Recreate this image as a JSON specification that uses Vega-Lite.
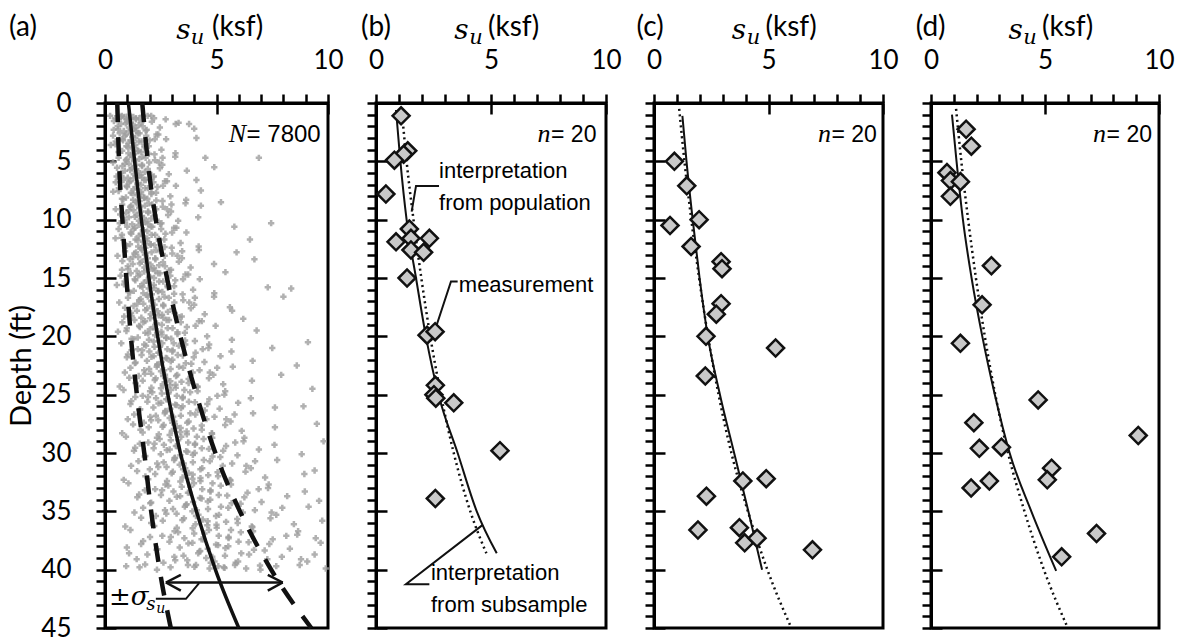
{
"$schema": "https://vega.github.io/schema/vega-lite/v6.json",
"background": "white",
"padding": {"left": 6, "top": 12, "right": 0, "bottom": 0},
"spacing": 48,
"bounds": "flush",
"datasets": {
"cloud": [
{"d":1.1,"s":0.23},{"d":1.3,"s":0.46},{"d":1.4,"s":0.61},{"d":1.1,"s":0.75},{"d":1.2,"s":0.87},{"d":1.4,"s":0.98},{"d":1.0,"s":1.07},{"d":1.3,"s":1.16},{"d":1.2,"s":1.27},{"d":1.4,"s":1.39},{"d":1.3,"s":1.54},{"d":1.1,"s":1.68},{"d":1.1,"s":1.91},{"d":1.3,"s":2.2},{"d":1.4,"s":2.72},
{"d":2.3,"s":0.39},{"d":2.0,"s":0.57},{"d":1.8,"s":0.72},{"d":2.4,"s":0.84},{"d":1.6,"s":0.98},{"d":2.1,"s":1.07},{"d":1.7,"s":1.16},{"d":2.2,"s":1.28},{"d":2.4,"s":1.4},{"d":1.9,"s":1.51},{"d":2.0,"s":1.69},{"d":2.3,"s":1.87},{"d":1.6,"s":2.1},{"d":2.1,"s":2.46},{"d":1.8,"s":3.17},
{"d":2.8,"s":0.36},{"d":3.3,"s":0.48},{"d":2.6,"s":0.66},{"d":3.1,"s":0.78},{"d":2.7,"s":0.94},{"d":3.4,"s":1.06},{"d":3.2,"s":1.15},{"d":2.9,"s":1.24},{"d":3.0,"s":1.36},{"d":2.6,"s":1.48},{"d":3.3,"s":1.64},{"d":2.8,"s":1.85},{"d":3.2,"s":2.0},{"d":2.7,"s":2.31},{"d":3.1,"s":2.74},
{"d":3.6,"s":0.26},{"d":4.2,"s":0.61},{"d":4.1,"s":0.77},{"d":3.7,"s":0.96},{"d":4.3,"s":1.05},{"d":3.9,"s":1.21},{"d":4.4,"s":1.3},{"d":3.6,"s":1.36},{"d":4.1,"s":1.49},{"d":4.2,"s":1.62},{"d":3.8,"s":1.77},{"d":3.7,"s":1.96},{"d":4.4,"s":2.22},{"d":4.0,"s":2.53},{"d":4.3,"s":3.16},
{"d":5.1,"s":0.36},{"d":4.7,"s":0.61},{"d":5.4,"s":0.78},{"d":4.9,"s":0.94},{"d":5.2,"s":1.07},{"d":4.6,"s":1.2},{"d":5.0,"s":1.3},{"d":5.3,"s":1.4},{"d":4.8,"s":1.53},{"d":5.4,"s":1.66},{"d":4.7,"s":1.82},{"d":5.1,"s":1.98},{"d":4.9,"s":2.24},{"d":5.3,"s":2.57},{"d":4.6,"s":3.15},
{"d":6.3,"s":0.52},{"d":6.0,"s":0.72},{"d":5.8,"s":0.89},{"d":6.4,"s":1.02},{"d":5.6,"s":1.19},{"d":6.1,"s":1.29},{"d":5.7,"s":1.39},{"d":6.2,"s":1.52},{"d":6.4,"s":1.66},{"d":5.9,"s":1.79},{"d":6.0,"s":1.99},{"d":6.3,"s":2.19},{"d":5.6,"s":2.46},{"d":6.1,"s":2.86},{"d":5.8,"s":3.67},
{"d":6.8,"s":0.48},{"d":7.3,"s":0.62},{"d":6.6,"s":0.83},{"d":7.1,"s":0.97},{"d":6.7,"s":1.14},{"d":7.4,"s":1.28},{"d":7.2,"s":1.38},{"d":6.9,"s":1.48},{"d":7.0,"s":1.62},{"d":6.6,"s":1.76},{"d":7.3,"s":1.93},{"d":6.8,"s":2.17},{"d":7.2,"s":2.35},{"d":6.7,"s":2.69},{"d":7.1,"s":3.18},
{"d":7.6,"s":0.37},{"d":8.2,"s":0.76},{"d":8.1,"s":0.94},{"d":7.7,"s":1.16},{"d":8.3,"s":1.26},{"d":7.9,"s":1.44},{"d":8.4,"s":1.55},{"d":7.6,"s":1.62},{"d":8.1,"s":1.76},{"d":8.2,"s":1.9},{"d":7.8,"s":2.08},{"d":7.7,"s":2.29},{"d":8.4,"s":2.58},{"d":8.0,"s":2.93},{"d":8.3,"s":3.64},
{"d":9.1,"s":0.48},{"d":8.7,"s":0.77},{"d":9.4,"s":0.95},{"d":8.9,"s":1.13},{"d":9.2,"s":1.28},{"d":8.6,"s":1.42},{"d":9.0,"s":1.53},{"d":9.3,"s":1.64},{"d":8.8,"s":1.79},{"d":9.4,"s":1.94},{"d":8.7,"s":2.12},{"d":9.1,"s":2.3},{"d":8.9,"s":2.59},{"d":9.3,"s":2.96},{"d":8.6,"s":3.61},
{"d":10.3,"s":0.66},{"d":10.0,"s":0.88},{"d":9.8,"s":1.07},{"d":10.4,"s":1.22},{"d":9.6,"s":1.41},{"d":10.1,"s":1.52},{"d":9.7,"s":1.63},{"d":10.2,"s":1.78},{"d":10.4,"s":1.93},{"d":9.9,"s":2.08},{"d":10.0,"s":2.31},{"d":10.3,"s":2.53},{"d":9.6,"s":2.83},{"d":10.1,"s":3.28},{"d":9.8,"s":4.18},
{"d":10.8,"s":0.61},{"d":11.3,"s":0.76},{"d":10.6,"s":1.0},{"d":11.1,"s":1.15},{"d":10.7,"s":1.35},{"d":11.4,"s":1.51},{"d":11.2,"s":1.62},{"d":10.9,"s":1.74},{"d":11.0,"s":1.9},{"d":10.6,"s":2.05},{"d":11.3,"s":2.25},{"d":10.8,"s":2.52},{"d":11.2,"s":2.71},{"d":10.7,"s":3.1},{"d":11.1,"s":3.65},
{"d":11.6,"s":0.47},{"d":12.2,"s":0.92},{"d":12.1,"s":1.12},{"d":11.7,"s":1.37},{"d":12.3,"s":1.49},{"d":11.9,"s":1.69},{"d":12.4,"s":1.81},{"d":11.6,"s":1.89},{"d":12.1,"s":2.05},{"d":12.2,"s":2.22},{"d":11.8,"s":2.42},{"d":11.7,"s":2.66},{"d":12.4,"s":2.99},{"d":12.0,"s":3.39},{"d":12.3,"s":4.2},
{"d":13.1,"s":0.56},{"d":12.7,"s":0.9},{"d":13.4,"s":1.11},{"d":12.9,"s":1.32},{"d":13.2,"s":1.49},{"d":12.6,"s":1.66},{"d":13.0,"s":1.79},{"d":13.3,"s":1.92},{"d":12.8,"s":2.09},{"d":13.4,"s":2.26},{"d":12.7,"s":2.47},{"d":13.1,"s":2.68},{"d":12.9,"s":3.02},{"d":13.3,"s":3.45},{"d":12.6,"s":4.21},
{"d":14.3,"s":0.76},{"d":14.0,"s":1.02},{"d":13.8,"s":1.24},{"d":14.4,"s":1.42},{"d":13.6,"s":1.64},{"d":14.1,"s":1.77},{"d":13.7,"s":1.9},{"d":14.2,"s":2.08},{"d":14.4,"s":2.25},{"d":13.9,"s":2.43},{"d":14.0,"s":2.69},{"d":14.3,"s":2.96},{"d":13.6,"s":3.31},{"d":14.1,"s":3.84},{"d":13.8,"s":4.89},
{"d":14.8,"s":0.7},{"d":15.3,"s":0.88},{"d":14.6,"s":1.15},{"d":15.1,"s":1.33},{"d":14.7,"s":1.56},{"d":15.4,"s":1.74},{"d":15.2,"s":1.88},{"d":14.9,"s":2.02},{"d":15.0,"s":2.2},{"d":14.6,"s":2.38},{"d":15.3,"s":2.61},{"d":14.8,"s":2.93},{"d":15.2,"s":3.15},{"d":14.7,"s":3.61},{"d":15.1,"s":4.25},
{"d":15.6,"s":0.53},{"d":16.2,"s":1.05},{"d":16.1,"s":1.29},{"d":15.7,"s":1.58},{"d":16.3,"s":1.72},{"d":15.9,"s":1.96},{"d":16.4,"s":2.1},{"d":15.6,"s":2.19},{"d":16.1,"s":2.38},{"d":16.2,"s":2.57},{"d":15.8,"s":2.81},{"d":15.7,"s":3.1},{"d":16.4,"s":3.48},{"d":16.0,"s":3.95},{"d":16.3,"s":4.9},
{"d":17.1,"s":0.64},{"d":16.7,"s":1.03},{"d":17.4,"s":1.28},{"d":16.9,"s":1.53},{"d":17.2,"s":1.72},{"d":16.6,"s":1.92},{"d":17.0,"s":2.07},{"d":17.3,"s":2.22},{"d":16.8,"s":2.42},{"d":17.4,"s":2.62},{"d":16.7,"s":2.86},{"d":17.1,"s":3.11},{"d":16.9,"s":3.51},{"d":17.3,"s":4.0},{"d":16.6,"s":4.89},
{"d":18.3,"s":0.86},{"d":18.0,"s":1.17},{"d":17.8,"s":1.43},{"d":18.4,"s":1.63},{"d":17.6,"s":1.89},{"d":18.1,"s":2.05},{"d":17.7,"s":2.2},{"d":18.2,"s":2.41},{"d":18.4,"s":2.61},{"d":17.9,"s":2.82},{"d":18.0,"s":3.13},{"d":18.3,"s":3.44},{"d":17.6,"s":3.85},{"d":18.1,"s":4.47},{"d":17.8,"s":5.7},
{"d":18.8,"s":0.78},{"d":19.3,"s":0.98},{"d":18.6,"s":1.32},{"d":19.1,"s":1.53},{"d":18.7,"s":1.8},{"d":19.4,"s":2.01},{"d":19.2,"s":2.17},{"d":18.9,"s":2.33},{"d":19.0,"s":2.55},{"d":18.6,"s":2.76},{"d":19.3,"s":3.03},{"d":18.8,"s":3.4},{"d":19.2,"s":3.67},{"d":18.7,"s":4.21},{"d":19.1,"s":4.96},
{"d":19.6,"s":0.58},{"d":20.2,"s":1.19},{"d":20.1,"s":1.47},{"d":19.7,"s":1.81},{"d":20.3,"s":1.97},{"d":19.9,"s":2.25},{"d":20.4,"s":2.42},{"d":19.6,"s":2.53},{"d":20.1,"s":2.75},{"d":20.2,"s":2.97},{"d":19.8,"s":3.25},{"d":19.7,"s":3.58},{"d":20.4,"s":4.03},{"d":20.0,"s":4.58},{"d":20.3,"s":5.69},
{"d":20.6,"s":0.73},{"d":21.2,"s":1.19},{"d":21.1,"s":1.47},{"d":20.7,"s":1.76},{"d":21.3,"s":1.99},{"d":20.9,"s":2.22},{"d":21.4,"s":2.39},{"d":20.6,"s":2.57},{"d":21.1,"s":2.8},{"d":21.2,"s":3.03},{"d":20.8,"s":3.31},{"d":20.7,"s":3.6},{"d":21.4,"s":4.06},{"d":21.0,"s":4.64},{"d":21.3,"s":5.67},
{"d":21.8,"s":0.98},{"d":22.3,"s":1.34},{"d":21.6,"s":1.64},{"d":22.1,"s":1.88},{"d":21.7,"s":2.18},{"d":22.4,"s":2.36},{"d":22.2,"s":2.54},{"d":21.9,"s":2.78},{"d":22.0,"s":3.02},{"d":21.6,"s":3.26},{"d":22.3,"s":3.62},{"d":21.8,"s":3.98},{"d":22.2,"s":4.46},{"d":21.7,"s":5.18},{"d":22.1,"s":6.62},
{"d":23.1,"s":0.89},{"d":22.7,"s":1.14},{"d":23.4,"s":1.51},{"d":22.9,"s":1.76},{"d":23.2,"s":2.07},{"d":22.6,"s":2.32},{"d":23.0,"s":2.51},{"d":23.3,"s":2.69},{"d":22.8,"s":2.94},{"d":23.4,"s":3.19},{"d":22.7,"s":3.5},{"d":23.1,"s":3.93},{"d":22.9,"s":4.24},{"d":23.3,"s":4.86},{"d":22.6,"s":5.73},
{"d":24.3,"s":0.66},{"d":24.0,"s":1.37},{"d":23.8,"s":1.69},{"d":24.4,"s":2.08},{"d":23.6,"s":2.27},{"d":24.1,"s":2.59},{"d":23.7,"s":2.78},{"d":24.2,"s":2.91},{"d":24.4,"s":3.17},{"d":23.9,"s":3.43},{"d":24.0,"s":3.75},{"d":24.3,"s":4.14},{"d":23.6,"s":4.66},{"d":24.1,"s":5.3},{"d":23.8,"s":6.59},
{"d":24.6,"s":0.83},{"d":25.2,"s":1.36},{"d":25.1,"s":1.69},{"d":24.7,"s":2.02},{"d":25.3,"s":2.29},{"d":24.9,"s":2.55},{"d":25.4,"s":2.75},{"d":24.6,"s":2.95},{"d":25.1,"s":3.22},{"d":25.2,"s":3.49},{"d":24.8,"s":3.82},{"d":24.7,"s":4.15},{"d":25.4,"s":4.68},{"d":25.0,"s":5.35},{"d":25.3,"s":6.54},
{"d":25.8,"s":1.14},{"d":26.3,"s":1.55},{"d":25.6,"s":1.9},{"d":26.1,"s":2.17},{"d":25.7,"s":2.52},{"d":26.4,"s":2.72},{"d":26.2,"s":2.93},{"d":25.9,"s":3.21},{"d":26.0,"s":3.48},{"d":25.6,"s":3.76},{"d":26.3,"s":4.17},{"d":25.8,"s":4.59},{"d":26.2,"s":5.14},{"d":25.7,"s":5.97},{"d":26.1,"s":7.62},
{"d":27.1,"s":1.02},{"d":26.7,"s":1.31},{"d":27.4,"s":1.74},{"d":26.9,"s":2.03},{"d":27.2,"s":2.39},{"d":26.6,"s":2.68},{"d":27.0,"s":2.9},{"d":27.3,"s":3.11},{"d":26.8,"s":3.4},{"d":27.4,"s":3.69},{"d":26.7,"s":4.05},{"d":27.1,"s":4.55},{"d":26.9,"s":4.91},{"d":27.3,"s":5.63},{"d":26.6,"s":6.64},
{"d":28.3,"s":0.77},{"d":28.0,"s":1.59},{"d":27.8,"s":1.96},{"d":28.4,"s":2.41},{"d":27.6,"s":2.63},{"d":28.1,"s":3.0},{"d":27.7,"s":3.22},{"d":28.2,"s":3.37},{"d":28.4,"s":3.67},{"d":27.9,"s":3.97},{"d":28.0,"s":4.34},{"d":28.3,"s":4.79},{"d":27.6,"s":5.39},{"d":28.1,"s":6.13},{"d":27.8,"s":7.62},
{"d":28.6,"s":0.94},{"d":29.2,"s":1.56},{"d":29.1,"s":1.94},{"d":28.7,"s":2.33},{"d":29.3,"s":2.64},{"d":28.9,"s":2.95},{"d":29.4,"s":3.18},{"d":28.6,"s":3.42},{"d":29.1,"s":3.73},{"d":29.2,"s":4.04},{"d":28.8,"s":4.42},{"d":28.7,"s":4.81},{"d":29.4,"s":5.43},{"d":29.0,"s":6.21},{"d":29.3,"s":7.6},
{"d":29.8,"s":1.3},{"d":30.3,"s":1.78},{"d":29.6,"s":2.18},{"d":30.1,"s":2.5},{"d":29.7,"s":2.9},{"d":30.4,"s":3.14},{"d":30.2,"s":3.38},{"d":29.9,"s":3.7},{"d":30.0,"s":4.02},{"d":29.6,"s":4.34},{"d":30.3,"s":4.82},{"d":29.8,"s":5.3},{"d":30.2,"s":5.94},{"d":29.7,"s":6.9},{"d":30.1,"s":8.82},
{"d":31.1,"s":1.17},{"d":30.7,"s":1.5},{"d":31.4,"s":2.01},{"d":30.9,"s":2.34},{"d":31.2,"s":2.76},{"d":30.6,"s":3.1},{"d":31.0,"s":3.35},{"d":31.3,"s":3.6},{"d":30.8,"s":3.94},{"d":31.4,"s":4.28},{"d":30.7,"s":4.7},{"d":31.1,"s":5.28},{"d":30.9,"s":5.7},{"d":31.3,"s":6.54},{"d":30.6,"s":7.72},
{"d":32.3,"s":0.84},{"d":32.0,"s":1.81},{"d":31.8,"s":2.25},{"d":32.4,"s":2.78},{"d":31.6,"s":3.04},{"d":32.1,"s":3.48},{"d":31.7,"s":3.75},{"d":32.2,"s":3.92},{"d":32.4,"s":4.28},{"d":31.9,"s":4.63},{"d":32.0,"s":5.07},{"d":32.3,"s":5.6},{"d":31.6,"s":6.3},{"d":32.1,"s":7.18},{"d":31.8,"s":8.94},
{"d":32.6,"s":1.05},{"d":33.2,"s":1.79},{"d":33.1,"s":2.25},{"d":32.7,"s":2.71},{"d":33.3,"s":3.07},{"d":32.9,"s":3.44},{"d":33.4,"s":3.72},{"d":32.6,"s":3.99},{"d":33.1,"s":4.36},{"d":33.2,"s":4.73},{"d":32.8,"s":5.19},{"d":32.7,"s":5.65},{"d":33.4,"s":6.39},{"d":33.0,"s":7.31},{"d":33.3,"s":8.96},
{"d":33.8,"s":1.45},{"d":34.3,"s":2.03},{"d":33.6,"s":2.51},{"d":34.1,"s":2.89},{"d":33.7,"s":3.37},{"d":34.4,"s":3.66},{"d":34.2,"s":3.95},{"d":33.9,"s":4.33},{"d":34.0,"s":4.72},{"d":33.6,"s":5.1},{"d":34.3,"s":5.68},{"d":33.8,"s":6.25},{"d":34.2,"s":7.02},{"d":33.7,"s":8.17},{"d":34.1,"s":9.6},
{"d":35.1,"s":1.32},{"d":34.7,"s":1.71},{"d":35.4,"s":2.28},{"d":34.9,"s":2.69},{"d":35.2,"s":3.21},{"d":34.6,"s":3.58},{"d":35.0,"s":3.92},{"d":35.3,"s":4.19},{"d":34.8,"s":4.62},{"d":35.4,"s":4.98},{"d":34.7,"s":5.53},{"d":35.1,"s":6.18},{"d":34.9,"s":6.72},{"d":35.3,"s":7.68},{"d":34.6,"s":9.13},
{"d":36.3,"s":0.91},{"d":36.0,"s":2.07},{"d":35.8,"s":2.59},{"d":36.4,"s":3.22},{"d":35.6,"s":3.54},{"d":36.1,"s":4.06},{"d":35.7,"s":4.38},{"d":36.2,"s":4.59},{"d":36.4,"s":5.01},{"d":35.9,"s":5.43},{"d":36.0,"s":5.95},{"d":36.3,"s":6.58},{"d":35.6,"s":7.42},{"d":36.1,"s":8.47},{"d":35.8,"s":9.74},
{"d":36.6,"s":1.14},{"d":37.2,"s":2.02},{"d":37.1,"s":2.57},{"d":36.7,"s":3.12},{"d":37.3,"s":3.56},{"d":36.9,"s":4.0},{"d":37.4,"s":4.33},{"d":36.6,"s":4.66},{"d":37.1,"s":5.1},{"d":37.2,"s":5.54},{"d":36.8,"s":6.09},{"d":36.7,"s":6.64},{"d":37.4,"s":7.52},{"d":37.0,"s":8.62},{"d":37.3,"s":9.45},
{"d":37.8,"s":1.62},{"d":38.3,"s":2.31},{"d":37.6,"s":2.89},{"d":38.1,"s":3.35},{"d":37.7,"s":3.92},{"d":38.4,"s":4.27},{"d":38.2,"s":4.61},{"d":37.9,"s":5.07},{"d":38.0,"s":5.53},{"d":37.6,"s":5.99},{"d":38.3,"s":6.68},{"d":37.8,"s":7.37},{"d":38.2,"s":8.29},{"d":37.7,"s":9.67},{"d":38.1,"s":0.98},
{"d":39.1,"s":1.42},{"d":38.7,"s":1.9},{"d":39.4,"s":2.62},{"d":38.9,"s":3.11},{"d":39.2,"s":3.69},{"d":38.6,"s":4.18},{"d":39.0,"s":4.54},{"d":39.3,"s":4.91},{"d":38.8,"s":5.38},{"d":39.4,"s":5.86},{"d":38.7,"s":6.46},{"d":39.1,"s":7.28},{"d":38.9,"s":7.93},{"d":39.3,"s":9.07},{"d":38.6,"s":1.08},
{"d":39.7,"s":0.95},{"d":40.0,"s":2.33},{"d":39.8,"s":2.94},{"d":39.6,"s":3.72},{"d":39.6,"s":4.08},{"d":39.9,"s":4.69},{"d":39.7,"s":5.08},{"d":39.8,"s":5.33},{"d":39.6,"s":5.83},{"d":39.9,"s":6.33},{"d":40.0,"s":6.97},{"d":39.7,"s":7.68},{"d":39.6,"s":8.73},{"d":39.9,"s":9.9},{"d":39.8,"s":1.55},
{"d":1.7,"s":3.3},{"d":1.8,"s":3.77},{"d":4.7,"s":4.5},{"d":6.6,"s":4.1},{"d":8.8,"s":4.3},{"d":10.6,"s":5.8},{"d":11.7,"s":6.5},{"d":13.4,"s":6.7},{"d":4.7,"s":6.9},{"d":10.3,"s":7.45},{"d":15.8,"s":7.3},{"d":15.9,"s":8.35},{"d":16.6,"s":8.0},{"d":8.5,"s":5.2},{"d":12.8,"s":5.9},{"d":3.0,"s":4.1},{"d":19.5,"s":6.8},{"d":22.5,"s":8.6},{"d":24.5,"s":9.3},{"d":27.5,"s":9.5},{"d":14.5,"s":5.4},{"d":18.5,"s":6.2},{"d":21.0,"s":7.5},{"d":26.0,"s":8.9},{"d":7.5,"s":4.3},{"d":2.2,"s":4.0},{"d":5.5,"s":4.9},{"d":29.0,"s":9.8},{"d":31.5,"s":9.4},{"d":23.3,"s":7.9},{"d":20.5,"s":9.1},{"d":17.5,"s":5.6},
{"d":1.55,"s":0.4},{"d":1.2,"s":0.72},{"d":1.75,"s":0.93},{"d":1.4,"s":1.1},{"d":1.85,"s":1.25},{"d":1.3,"s":1.39},{"d":1.65,"s":1.63},{"d":1.1,"s":2.07},
{"d":2.25,"s":0.59},{"d":2.8,"s":0.89},{"d":2.45,"s":1.07},{"d":2.9,"s":1.22},{"d":2.15,"s":1.37},{"d":2.6,"s":1.55},{"d":2.35,"s":1.82},{"d":2.7,"s":2.39},
{"d":3.55,"s":0.47},{"d":3.2,"s":0.81},{"d":3.75,"s":1.02},{"d":3.4,"s":1.21},{"d":3.85,"s":1.36},{"d":3.3,"s":1.52},{"d":3.65,"s":1.77},{"d":3.1,"s":2.23},
{"d":4.25,"s":0.66},{"d":4.8,"s":0.98},{"d":4.45,"s":1.17},{"d":4.9,"s":1.33},{"d":4.15,"s":1.49},{"d":4.6,"s":1.68},{"d":4.35,"s":1.97},{"d":4.7,"s":2.58},
{"d":5.55,"s":0.54},{"d":5.2,"s":0.9},{"d":5.75,"s":1.13},{"d":5.4,"s":1.33},{"d":5.85,"s":1.49},{"d":5.3,"s":1.66},{"d":5.65,"s":1.92},{"d":5.1,"s":2.42},
{"d":6.25,"s":0.74},{"d":6.8,"s":1.08},{"d":6.45,"s":1.28},{"d":6.9,"s":1.45},{"d":6.15,"s":1.62},{"d":6.6,"s":1.83},{"d":6.35,"s":2.13},{"d":6.7,"s":2.78},
{"d":7.55,"s":0.61},{"d":7.2,"s":0.99},{"d":7.75,"s":1.24},{"d":7.4,"s":1.45},{"d":7.85,"s":1.62},{"d":7.3,"s":1.8},{"d":7.65,"s":2.08},{"d":7.1,"s":2.6},
{"d":8.25,"s":0.82},{"d":8.8,"s":1.18},{"d":8.45,"s":1.4},{"d":8.9,"s":1.58},{"d":8.15,"s":1.76},{"d":8.6,"s":1.97},{"d":8.35,"s":2.3},{"d":8.7,"s":2.98},
{"d":9.55,"s":0.68},{"d":9.2,"s":1.08},{"d":9.75,"s":1.34},{"d":9.4,"s":1.56},{"d":9.85,"s":1.75},{"d":9.3,"s":1.93},{"d":9.65,"s":2.23},{"d":9.1,"s":2.78},
{"d":10.25,"s":0.9},{"d":10.8,"s":1.28},{"d":10.45,"s":1.51},{"d":10.9,"s":1.7},{"d":10.15,"s":1.9},{"d":10.6,"s":2.12},{"d":10.35,"s":2.47},{"d":10.7,"s":3.2},
{"d":11.55,"s":0.74},{"d":11.2,"s":1.18},{"d":11.75,"s":1.46},{"d":11.4,"s":1.7},{"d":11.85,"s":1.89},{"d":11.3,"s":2.09},{"d":11.65,"s":2.41},{"d":11.1,"s":3.01},
{"d":12.25,"s":0.97},{"d":12.8,"s":1.39},{"d":12.45,"s":1.63},{"d":12.9,"s":1.84},{"d":12.15,"s":2.05},{"d":12.6,"s":2.3},{"d":12.35,"s":2.67},{"d":12.7,"s":3.46},
{"d":13.55,"s":0.78},{"d":13.2,"s":1.26},{"d":13.75,"s":1.56},{"d":13.4,"s":1.82},{"d":13.85,"s":2.04},{"d":13.3,"s":2.25},{"d":13.65,"s":2.6},{"d":13.1,"s":3.25},
{"d":14.25,"s":1.04},{"d":14.8,"s":1.49},{"d":14.45,"s":1.76},{"d":14.9,"s":1.98},{"d":14.15,"s":2.2},{"d":14.6,"s":2.47},{"d":14.35,"s":2.87},{"d":14.7,"s":3.73},
{"d":15.55,"s":0.85},{"d":15.2,"s":1.36},{"d":15.75,"s":1.68},{"d":15.4,"s":1.96},{"d":15.85,"s":2.2},{"d":15.3,"s":2.43},{"d":15.65,"s":2.8},{"d":15.1,"s":3.5},
{"d":16.25,"s":1.12},{"d":16.8,"s":1.6},{"d":16.45,"s":1.89},{"d":16.9,"s":2.13},{"d":16.15,"s":2.38},{"d":16.6,"s":2.67},{"d":16.35,"s":3.1},{"d":16.7,"s":4.03},
{"d":17.55,"s":0.9},{"d":17.2,"s":1.45},{"d":17.75,"s":1.81},{"d":17.4,"s":2.11},{"d":17.85,"s":2.36},{"d":17.3,"s":2.61},{"d":17.65,"s":3.02},{"d":17.1,"s":3.78},
{"d":18.25,"s":1.19},{"d":18.8,"s":1.72},{"d":18.45,"s":2.03},{"d":18.9,"s":2.29},{"d":18.15,"s":2.56},{"d":18.6,"s":2.87},{"d":18.35,"s":3.34},{"d":18.7,"s":4.34},
{"d":19.55,"s":0.96},{"d":19.2,"s":1.56},{"d":19.75,"s":1.94},{"d":19.4,"s":2.27},{"d":19.85,"s":2.54},{"d":19.3,"s":2.81},{"d":19.65,"s":3.25},{"d":19.1,"s":4.06},
{"d":20.25,"s":1.28},{"d":20.8,"s":1.84},{"d":20.45,"s":2.18},{"d":20.9,"s":2.46},{"d":20.15,"s":2.74},{"d":20.6,"s":3.08},{"d":20.35,"s":3.59},{"d":20.7,"s":4.67},
{"d":21.55,"s":1.03},{"d":21.2,"s":1.67},{"d":21.75,"s":2.08},{"d":21.4,"s":2.44},{"d":21.85,"s":2.73},{"d":21.3,"s":3.02},{"d":21.65,"s":3.49},{"d":21.1,"s":4.38},
{"d":22.25,"s":1.37},{"d":22.8,"s":1.98},{"d":22.45,"s":2.34},{"d":22.9,"s":2.65},{"d":22.15,"s":2.95},{"d":22.6,"s":3.32},{"d":22.35,"s":3.87},{"d":22.7,"s":5.03},
{"d":23.55,"s":1.09},{"d":23.2,"s":1.79},{"d":23.75,"s":2.23},{"d":23.4,"s":2.61},{"d":23.85,"s":2.93},{"d":23.3,"s":3.24},{"d":23.65,"s":3.75},{"d":23.1,"s":4.7},
{"d":24.25,"s":1.46},{"d":24.8,"s":2.12},{"d":24.45,"s":2.51},{"d":24.9,"s":2.84},{"d":24.15,"s":3.16},{"d":24.6,"s":3.56},{"d":24.35,"s":4.15},{"d":24.7,"s":5.39},
{"d":25.55,"s":1.18},{"d":25.2,"s":1.93},{"d":25.75,"s":2.4},{"d":25.4,"s":2.81},{"d":25.85,"s":3.15},{"d":25.3,"s":3.48},{"d":25.65,"s":4.03},{"d":25.1,"s":5.04},
{"d":26.25,"s":1.58},{"d":26.8,"s":2.28},{"d":26.45,"s":2.7},{"d":26.9,"s":3.06},{"d":26.15,"s":3.41},{"d":26.6,"s":3.83},{"d":26.35,"s":4.47},{"d":26.7,"s":5.81},
{"d":27.55,"s":1.26},{"d":27.2,"s":2.07},{"d":27.75,"s":2.58},{"d":27.4,"s":3.02},{"d":27.85,"s":3.39},{"d":27.3,"s":3.75},{"d":27.65,"s":4.34},{"d":27.1,"s":5.44},
{"d":28.25,"s":1.69},{"d":28.8,"s":2.45},{"d":28.45,"s":2.9},{"d":28.9,"s":3.28},{"d":28.15,"s":3.66},{"d":28.6,"s":4.12},{"d":28.35,"s":4.8},{"d":28.7,"s":6.25},
{"d":29.55,"s":1.35},{"d":29.2,"s":2.22},{"d":29.75,"s":2.77},{"d":29.4,"s":3.24},{"d":29.85,"s":3.64},{"d":29.3,"s":4.03},{"d":29.65,"s":4.66},{"d":29.1,"s":5.84},
{"d":30.25,"s":1.81},{"d":30.8,"s":2.63},{"d":30.45,"s":3.12},{"d":30.9,"s":3.53},{"d":30.15,"s":3.94},{"d":30.6,"s":4.43},{"d":30.35,"s":5.17},{"d":30.7,"s":6.73},
{"d":31.55,"s":1.44},{"d":31.2,"s":2.39},{"d":31.75,"s":2.99},{"d":31.4,"s":3.5},{"d":31.85,"s":3.93},{"d":31.3,"s":4.36},{"d":31.65,"s":5.05},{"d":31.1,"s":6.34},
{"d":32.25,"s":1.94},{"d":32.8,"s":2.84},{"d":32.45,"s":3.38},{"d":32.9,"s":3.83},{"d":32.15,"s":4.28},{"d":32.6,"s":4.82},{"d":32.35,"s":5.63},{"d":32.7,"s":7.34},
{"d":33.55,"s":1.53},{"d":33.2,"s":2.56},{"d":33.75,"s":3.22},{"d":33.4,"s":3.79},{"d":33.85,"s":4.26},{"d":33.3,"s":4.73},{"d":33.65,"s":5.48},{"d":33.1,"s":6.89},
{"d":34.25,"s":2.07},{"d":34.8,"s":3.05},{"d":34.45,"s":3.63},{"d":34.9,"s":4.12},{"d":34.15,"s":4.61},{"d":34.6,"s":5.2},{"d":34.35,"s":6.08},{"d":34.7,"s":7.95},
{"d":35.55,"s":1.62},{"d":35.2,"s":2.75},{"d":35.75,"s":3.47},{"d":35.4,"s":4.08},{"d":35.85,"s":4.6},{"d":35.3,"s":5.11},{"d":35.65,"s":5.93},{"d":35.1,"s":7.47},
{"d":36.25,"s":2.21},{"d":36.8,"s":3.28},{"d":36.45,"s":3.93},{"d":36.9,"s":4.46},{"d":36.15,"s":5.0},{"d":36.6,"s":5.65},{"d":36.35,"s":6.61},{"d":36.7,"s":8.66},
{"d":37.55,"s":1.71},{"d":37.2,"s":2.95},{"d":37.75,"s":3.74},{"d":37.4,"s":4.41},{"d":37.85,"s":4.98},{"d":37.3,"s":5.54},{"d":37.65,"s":6.44},{"d":37.1,"s":8.13},
{"d":38.25,"s":2.35},{"d":38.8,"s":3.52},{"d":38.45,"s":4.23},{"d":38.9,"s":4.81},{"d":38.15,"s":5.4},{"d":38.6,"s":6.11},{"d":38.35,"s":7.16},{"d":38.7,"s":9.4},
{"d":39.55,"s":1.8},{"d":39.2,"s":3.15},{"d":39.75,"s":4.01},{"d":39.4,"s":4.74},{"d":39.85,"s":5.36},{"d":39.3,"s":5.97},{"d":39.65,"s":6.95},{"d":39.1,"s":8.79}
],
"curves": [
{"p":"a","k":"mean","d":0,"s":1.05},{"p":"a","k":"mean","d":5,"s":1.33},{"p":"a","k":"mean","d":10,"s":1.63},{"p":"a","k":"mean","d":15,"s":1.97},{"p":"a","k":"mean","d":20,"s":2.36},{"p":"a","k":"mean","d":25,"s":2.82},{"p":"a","k":"mean","d":30,"s":3.38},{"p":"a","k":"mean","d":35,"s":4.1},{"p":"a","k":"mean","d":40,"s":4.95},{"p":"a","k":"mean","d":45,"s":6.0},
{"p":"a","k":"lo","d":0,"s":0.55},{"p":"a","k":"lo","d":5,"s":0.63},{"p":"a","k":"lo","d":10,"s":0.78},{"p":"a","k":"lo","d":15,"s":0.96},{"p":"a","k":"lo","d":20,"s":1.16},{"p":"a","k":"lo","d":25,"s":1.43},{"p":"a","k":"lo","d":30,"s":1.76},{"p":"a","k":"lo","d":35,"s":2.07},{"p":"a","k":"lo","d":40,"s":2.45},{"p":"a","k":"lo","d":45,"s":2.95},
{"p":"a","k":"hi","d":0,"s":1.67},{"p":"a","k":"hi","d":5,"s":1.92},{"p":"a","k":"hi","d":10,"s":2.28},{"p":"a","k":"hi","d":15,"s":2.78},{"p":"a","k":"hi","d":20,"s":3.38},{"p":"a","k":"hi","d":25,"s":4.1},{"p":"a","k":"hi","d":30,"s":4.95},{"p":"a","k":"hi","d":35,"s":6.05},{"p":"a","k":"hi","d":40,"s":7.45},{"p":"a","k":"hi","d":45,"s":9.25},
{"p":"b","k":"sub","d":0.6,"s":0.87},{"p":"b","k":"sub","d":5,"s":1.06},{"p":"b","k":"sub","d":10,"s":1.33},{"p":"b","k":"sub","d":15,"s":1.74},{"p":"b","k":"sub","d":20,"s":2.17},{"p":"b","k":"sub","d":25,"s":2.72},{"p":"b","k":"sub","d":30,"s":3.55},{"p":"b","k":"sub","d":35,"s":4.38},{"p":"b","k":"sub","d":38.6,"s":5.25},
{"p":"b","k":"pop","d":0.6,"s":1.12},{"p":"b","k":"pop","d":5,"s":1.33},{"p":"b","k":"pop","d":10,"s":1.63},{"p":"b","k":"pop","d":15,"s":1.97},{"p":"b","k":"pop","d":20,"s":2.36},{"p":"b","k":"pop","d":25,"s":2.82},{"p":"b","k":"pop","d":30,"s":3.38},{"p":"b","k":"pop","d":35,"s":4.1},{"p":"b","k":"pop","d":38.6,"s":4.8},
{"p":"c","k":"sub","d":1.1,"s":1.24},{"p":"c","k":"sub","d":5,"s":1.42},{"p":"c","k":"sub","d":10,"s":1.69},{"p":"c","k":"sub","d":15,"s":1.99},{"p":"c","k":"sub","d":20,"s":2.35},{"p":"c","k":"sub","d":25,"s":2.88},{"p":"c","k":"sub","d":30,"s":3.5},{"p":"c","k":"sub","d":35,"s":4.12},{"p":"c","k":"sub","d":40,"s":4.72},
{"p":"c","k":"pop","d":0.5,"s":1.1},{"p":"c","k":"pop","d":5,"s":1.33},{"p":"c","k":"pop","d":10,"s":1.63},{"p":"c","k":"pop","d":15,"s":1.97},{"p":"c","k":"pop","d":20,"s":2.36},{"p":"c","k":"pop","d":25,"s":2.82},{"p":"c","k":"pop","d":30,"s":3.38},{"p":"c","k":"pop","d":35,"s":4.1},{"p":"c","k":"pop","d":40,"s":4.95},{"p":"c","k":"pop","d":45,"s":6.0},
{"p":"d","k":"sub","d":1,"s":0.92},{"p":"d","k":"sub","d":5,"s":1.12},{"p":"d","k":"sub","d":10,"s":1.4},{"p":"d","k":"sub","d":15,"s":1.78},{"p":"d","k":"sub","d":20,"s":2.25},{"p":"d","k":"sub","d":25,"s":2.8},{"p":"d","k":"sub","d":30,"s":3.45},{"p":"d","k":"sub","d":35,"s":4.4},{"p":"d","k":"sub","d":40.1,"s":5.49},
{"p":"d","k":"pop","d":0.5,"s":1.1},{"p":"d","k":"pop","d":5,"s":1.33},{"p":"d","k":"pop","d":10,"s":1.63},{"p":"d","k":"pop","d":15,"s":1.97},{"p":"d","k":"pop","d":20,"s":2.36},{"p":"d","k":"pop","d":25,"s":2.82},{"p":"d","k":"pop","d":30,"s":3.38},{"p":"d","k":"pop","d":35,"s":4.1},{"p":"d","k":"pop","d":40,"s":4.95},{"p":"d","k":"pop","d":45,"s":6.0}
],
"pts": [
{"p":"b","d":1.1,"s":1.09},{"p":"b","d":4.1,"s":1.38},{"p":"b","d":4.4,"s":1.2},{"p":"b","d":4.9,"s":0.8},{"p":"b","d":7.8,"s":0.43},{"p":"b","d":10.8,"s":1.45},{"p":"b","d":11.6,"s":1.52},{"p":"b","d":11.9,"s":0.87},{"p":"b","d":11.6,"s":2.32},{"p":"b","d":12.6,"s":1.52},{"p":"b","d":12.8,"s":2.07},{"p":"b","d":15.0,"s":1.35},{"p":"b","d":19.9,"s":2.22},{"p":"b","d":19.6,"s":2.57},{"p":"b","d":24.2,"s":2.58},{"p":"b","d":25.0,"s":2.52},{"p":"b","d":25.3,"s":2.6},{"p":"b","d":25.7,"s":3.38},{"p":"b","d":29.8,"s":5.39},{"p":"b","d":33.9,"s":2.58},
{"p":"c","d":5.0,"s":0.89},{"p":"c","d":7.1,"s":1.43},{"p":"c","d":10.5,"s":0.7},{"p":"c","d":10.0,"s":1.97},{"p":"c","d":12.3,"s":1.62},{"p":"c","d":13.6,"s":2.93},{"p":"c","d":14.2,"s":2.97},{"p":"c","d":17.2,"s":2.93},{"p":"c","d":18.1,"s":2.72},{"p":"c","d":20.0,"s":2.27},{"p":"c","d":21.0,"s":5.31},{"p":"c","d":23.4,"s":2.24},{"p":"c","d":32.4,"s":3.88},{"p":"c","d":32.2,"s":4.9},{"p":"c","d":33.7,"s":2.29},{"p":"c","d":36.6,"s":1.92},{"p":"c","d":36.4,"s":3.73},{"p":"c","d":37.7,"s":3.96},{"p":"c","d":37.3,"s":4.5},{"p":"c","d":38.3,"s":6.92},
{"p":"d","d":2.25,"s":1.54},{"p":"d","d":3.7,"s":1.77},{"p":"d","d":5.97,"s":0.7},{"p":"d","d":6.65,"s":0.85},{"p":"d","d":6.74,"s":1.29},{"p":"d","d":8.0,"s":0.85},{"p":"d","d":13.95,"s":2.65},{"p":"d","d":17.3,"s":2.24},{"p":"d","d":20.6,"s":1.29},{"p":"d","d":25.45,"s":4.7},{"p":"d","d":27.4,"s":1.88},{"p":"d","d":28.5,"s":9.09},{"p":"d","d":29.6,"s":2.12},{"p":"d","d":29.5,"s":3.09},{"p":"d","d":31.3,"s":5.29},{"p":"d","d":32.3,"s":5.1},{"p":"d","d":33.0,"s":1.76},{"p":"d","d":32.4,"s":2.56},{"p":"d","d":36.9,"s":7.26},{"p":"d","d":38.9,"s":5.73}
],
"notes": [
{"p":"a","k":"tag","t":"(a)","s":-4.3,"d":-5.74},{"p":"a","k":"sym","t":"s","s":3.2,"d":-5.5},{"p":"a","k":"sub","t":"u","s":3.85,"d":-5.1},{"p":"a","k":"tag","t":"(ksf)","s":4.8,"d":-5.74},
{"p":"b","k":"tag","t":"(b)","s":-0.65,"d":-5.74},{"p":"b","k":"sym","t":"s","s":3.4,"d":-5.5},{"p":"b","k":"sub","t":"u","s":4.05,"d":-5.1},{"p":"b","k":"tag","t":"(ksf)","s":4.87,"d":-5.74},
{"p":"c","k":"tag","t":"(c)","s":-0.76,"d":-5.74},{"p":"c","k":"sym","t":"s","s":3.4,"d":-5.5},{"p":"c","k":"sub","t":"u","s":4.05,"d":-5.1},{"p":"c","k":"tag","t":"(ksf)","s":4.87,"d":-5.74},
{"p":"d","k":"tag","t":"(d)","s":-0.67,"d":-5.74},{"p":"d","k":"sym","t":"s","s":3.4,"d":-5.5},{"p":"d","k":"sub","t":"u","s":4.05,"d":-5.1},{"p":"d","k":"tag","t":"(ksf)","s":4.87,"d":-5.74},
{"p":"a","k":"nI","t":"N","s":6.33,"d":3.37},{"p":"a","k":"nV","t":"= 7800","s":6.35,"d":3.37},
{"p":"b","k":"nI","t":"n","s":7.59,"d":3.3},{"p":"b","k":"nV","t":"= 20","s":7.61,"d":3.3},
{"p":"c","k":"nI","t":"n","s":7.73,"d":3.3},{"p":"c","k":"nV","t":"= 20","s":7.75,"d":3.3},
{"p":"d","k":"nI","t":"n","s":7.68,"d":3.3},{"p":"d","k":"nV","t":"= 20","s":7.7,"d":3.3},
{"p":"b","k":"ann","t":"interpretation","s":2.74,"d":6.45},{"p":"b","k":"ann","t":"from population","s":2.74,"d":9.17},{"p":"b","k":"ann","t":"measurement","s":3.6,"d":16.2},{"p":"b","k":"ann","t":"interpretation","s":2.39,"d":40.9},{"p":"b","k":"ann","t":"from subsample","s":2.39,"d":43.6},
{"p":"a","k":"sig","t":"±σ","s":0.18,"d":43.0},{"p":"a","k":"sigs","t":"s","s":1.85,"d":43.45},{"p":"a","k":"sigu","t":"u","s":2.3,"d":43.75}
],
"leaders": [
{"p":"a","g":"sig","o":1,"s":4.22,"d":41.15},{"p":"a","g":"sig","o":2,"s":3.63,"d":42.5},{"p":"a","g":"sig","o":3,"s":2.28,"d":42.5},
{"p":"b","g":"pop","o":1,"s":2.74,"d":7.11},{"p":"b","g":"pop","o":2,"s":1.74,"d":7.11},{"p":"b","g":"pop","o":3,"s":1.55,"d":9.31},
{"p":"b","g":"meas","o":1,"s":3.55,"d":15.3},{"p":"b","g":"meas","o":2,"s":3.26,"d":15.3},{"p":"b","g":"meas","o":3,"s":2.61,"d":19.2},
{"p":"b","g":"subs","o":1,"s":4.64,"d":36.16},{"p":"b","g":"subs","o":2,"s":1.3,"d":41.25},{"p":"b","g":"subs","o":3,"s":2.32,"d":41.25}
],
"arrows": [
{"s":2.73,"d":41.1,"s2":7.97,"d2":41.1},{"s":2.73,"d":41.1,"s2":3.4,"d2":40.45},{"s":2.73,"d":41.1,"s2":3.4,"d2":41.8},{"s":7.97,"d":41.1,"s2":7.3,"d2":40.45},{"s":7.97,"d":41.1,"s2":7.3,"d2":41.8}
]
},
"hconcat": [
{
"width": 223, "height": 525,
"encoding": {
"x": {"field": "s", "type": "quantitative", "scale": {"domain": [0, 10], "nice": false, "zero": false},
 "axis": {"orient": "top", "values": [0,1,2,3,4,5,6,7,8,9,10], "labelExpr": "datum.value % 5 === 0 ? datum.label : ''", "title": null, "tickSize": 9, "labelPadding": 21, "labelFlush": false, "labelOverlap": false, "grid": true, "gridDash": [11, 2000], "gridOpacity": {"condition": {"test": "datum.value % 5 === 0", "value": 1}, "value": 0}}},
"y": {"field": "d", "type": "quantitative", "scale": {"domain": [0, 45], "reverse": true, "nice": false, "zero": false},
 "axis": {"values": [0,1,2,3,4,5,6,7,8,9,10,11,12,13,14,15,16,17,18,19,20,21,22,23,24,25,26,27,28,29,30,31,32,33,34,35,36,37,38,39,40,41,42,43,44,45], "labelExpr": "datum.value % 5 === 0 ? datum.label : ''", "title": "Depth (ft)", "titlePadding": 4, "tickSize": 9, "labelPadding": 25, "labelFlush": false, "labelOverlap": false, "grid": true, "gridDash": [11, 2000], "gridOpacity": {"condition": {"test": "datum.value % 5 === 0", "value": 1}, "value": 0}}}
},
"layer": [
{"data": {"name": "cloud"}, "mark": {"type": "point", "shape": "cross", "filled": true, "size": 40, "color": "#9d9d9d", "opacity": 0.8}},
{"data": {"name": "curves"}, "transform": [{"filter": "datum.p === 'a' && datum.k === 'mean'"}], "mark": {"type": "line", "color": "#111111", "strokeWidth": 3.5, "interpolate": "monotone"}, "encoding": {"order": {"field": "d", "type": "quantitative"}}},
{"data": {"name": "curves"}, "transform": [{"filter": "datum.p === 'a' && datum.k !== 'mean'"}], "mark": {"type": "line", "color": "#111111", "strokeWidth": 4.5, "strokeDash": [19, 15], "interpolate": "monotone"}, "encoding": {"detail": {"field": "k"}, "order": {"field": "d", "type": "quantitative"}}},
{"data": {"name": "arrows"}, "mark": {"type": "rule", "color": "#111111", "strokeWidth": 2.5}, "encoding": {"x2": {"field": "s2"}, "y2": {"field": "d2"}}},
{"data": {"name": "leaders"}, "transform": [{"filter": "datum.p === 'a'"}], "mark": {"type": "line", "color": "#111111", "strokeWidth": 2}, "encoding": {"detail": {"field": "g"}, "order": {"field": "o", "type": "quantitative"}}},
{"data": {"name": "notes"}, "transform": [{"filter": "datum.p === 'a' && datum.k === 'tag'"}], "mark": {"type": "text", "font": "Lato", "fontSize": 28, "align": "left", "baseline": "alphabetic", "color": "black"}, "encoding": {"text": {"field": "t"}}},
{"data": {"name": "notes"}, "transform": [{"filter": "datum.p === 'a' && datum.k === 'sym'"}], "mark": {"type": "text", "font": "DejaVu Serif", "fontStyle": "italic", "fontSize": 28, "align": "left", "baseline": "alphabetic", "color": "black"}, "encoding": {"text": {"field": "t"}}},
{"data": {"name": "notes"}, "transform": [{"filter": "datum.p === 'a' && datum.k === 'sub'"}], "mark": {"type": "text", "font": "DejaVu Serif", "fontStyle": "italic", "fontSize": 21, "align": "left", "baseline": "alphabetic", "color": "black"}, "encoding": {"text": {"field": "t"}}},
{"data": {"name": "notes"}, "transform": [{"filter": "datum.p === 'a' && datum.k === 'nI'"}], "mark": {"type": "text", "font": "Liberation Serif", "fontStyle": "italic", "fontSize": 26, "align": "right", "baseline": "alphabetic", "color": "black"}, "encoding": {"text": {"field": "t"}}},
{"data": {"name": "notes"}, "transform": [{"filter": "datum.p === 'a' && datum.k === 'nV'"}], "mark": {"type": "text", "font": "Liberation Sans", "fontSize": 24, "align": "left", "baseline": "alphabetic", "color": "black"}, "encoding": {"text": {"field": "t"}}},
{"data": {"name": "notes"}, "transform": [{"filter": "datum.p === 'a' && datum.k === 'sig'"}], "mark": {"type": "text", "font": "DejaVu Serif", "fontStyle": "italic", "fontSize": 26, "align": "left", "baseline": "alphabetic", "color": "black"}, "encoding": {"text": {"field": "t"}}},
{"data": {"name": "notes"}, "transform": [{"filter": "datum.p === 'a' && datum.k === 'sigs'"}], "mark": {"type": "text", "font": "DejaVu Serif", "fontStyle": "italic", "fontSize": 18, "align": "left", "baseline": "alphabetic", "color": "black"}, "encoding": {"text": {"field": "t"}}},
{"data": {"name": "notes"}, "transform": [{"filter": "datum.p === 'a' && datum.k === 'sigu'"}], "mark": {"type": "text", "font": "DejaVu Serif", "fontStyle": "italic", "fontSize": 14, "align": "left", "baseline": "alphabetic", "color": "black"}, "encoding": {"text": {"field": "t"}}}
]
},
{
"width": 230, "height": 525,
"encoding": {
"x": {"field": "s", "type": "quantitative", "scale": {"domain": [0, 10], "nice": false, "zero": false},
 "axis": {"orient": "top", "values": [0,1,2,3,4,5,6,7,8,9,10], "labelExpr": "datum.value % 5 === 0 ? datum.label : ''", "title": null, "tickSize": 9, "labelPadding": 21, "labelFlush": false, "labelOverlap": false, "grid": true, "gridDash": [11, 2000], "gridOpacity": {"condition": {"test": "datum.value % 5 === 0", "value": 1}, "value": 0}}},
"y": {"field": "d", "type": "quantitative", "scale": {"domain": [0, 45], "reverse": true, "nice": false, "zero": false},
 "axis": {"values": [0,1,2,3,4,5,6,7,8,9,10,11,12,13,14,15,16,17,18,19,20,21,22,23,24,25,26,27,28,29,30,31,32,33,34,35,36,37,38,39,40,41,42,43,44,45], "labels": false, "title": null, "tickSize": 9, "grid": true, "gridDash": [11, 2000], "gridOpacity": {"condition": {"test": "datum.value % 5 === 0", "value": 1}, "value": 0}}}
},
"layer": [
{"data": {"name": "curves"}, "transform": [{"filter": "datum.p === 'b' && datum.k === 'pop'"}], "mark": {"type": "line", "color": "#111111", "strokeWidth": 2.5, "strokeDash": [2, 3.5], "interpolate": "monotone"}, "encoding": {"order": {"field": "d", "type": "quantitative"}}},
{"data": {"name": "curves"}, "transform": [{"filter": "datum.p === 'b' && datum.k === 'sub'"}], "mark": {"type": "line", "color": "#111111", "strokeWidth": 2, "interpolate": "monotone"}, "encoding": {"order": {"field": "d", "type": "quantitative"}}},
{"data": {"name": "leaders"}, "transform": [{"filter": "datum.p === 'b'"}], "mark": {"type": "line", "color": "#111111", "strokeWidth": 2}, "encoding": {"detail": {"field": "g"}, "order": {"field": "o", "type": "quantitative"}}},
{"data": {"name": "pts"}, "transform": [{"filter": "datum.p === 'b'"}], "mark": {"type": "point", "shape": "diamond", "filled": true, "size": 290, "fill": "#c9c9c9", "stroke": "#111111", "strokeWidth": 2.5, "opacity": 1}},
{"data": {"name": "notes"}, "transform": [{"filter": "datum.p === 'b' && datum.k === 'tag'"}], "mark": {"type": "text", "font": "Lato", "fontSize": 28, "align": "left", "baseline": "alphabetic", "color": "black"}, "encoding": {"text": {"field": "t"}}},
{"data": {"name": "notes"}, "transform": [{"filter": "datum.p === 'b' && datum.k === 'sym'"}], "mark": {"type": "text", "font": "DejaVu Serif", "fontStyle": "italic", "fontSize": 28, "align": "left", "baseline": "alphabetic", "color": "black"}, "encoding": {"text": {"field": "t"}}},
{"data": {"name": "notes"}, "transform": [{"filter": "datum.p === 'b' && datum.k === 'sub'"}], "mark": {"type": "text", "font": "DejaVu Serif", "fontStyle": "italic", "fontSize": 21, "align": "left", "baseline": "alphabetic", "color": "black"}, "encoding": {"text": {"field": "t"}}},
{"data": {"name": "notes"}, "transform": [{"filter": "datum.p === 'b' && datum.k === 'nI'"}], "mark": {"type": "text", "font": "Liberation Serif", "fontStyle": "italic", "fontSize": 26, "align": "right", "baseline": "alphabetic", "color": "black"}, "encoding": {"text": {"field": "t"}}},
{"data": {"name": "notes"}, "transform": [{"filter": "datum.p === 'b' && datum.k === 'nV'"}], "mark": {"type": "text", "font": "Liberation Sans", "fontSize": 23, "align": "left", "baseline": "alphabetic", "color": "black"}, "encoding": {"text": {"field": "t"}}},
{"data": {"name": "notes"}, "transform": [{"filter": "datum.p === 'b' && datum.k === 'ann'"}], "mark": {"type": "text", "font": "Liberation Sans", "fontSize": 22, "align": "left", "baseline": "alphabetic", "color": "black"}, "encoding": {"text": {"field": "t"}}}
]
},
{
"width": 229, "height": 525,
"encoding": {
"x": {"field": "s", "type": "quantitative", "scale": {"domain": [0, 10], "nice": false, "zero": false},
 "axis": {"orient": "top", "values": [0,1,2,3,4,5,6,7,8,9,10], "labelExpr": "datum.value % 5 === 0 ? datum.label : ''", "title": null, "tickSize": 9, "labelPadding": 21, "labelFlush": false, "labelOverlap": false, "grid": true, "gridDash": [11, 2000], "gridOpacity": {"condition": {"test": "datum.value % 5 === 0", "value": 1}, "value": 0}}},
"y": {"field": "d", "type": "quantitative", "scale": {"domain": [0, 45], "reverse": true, "nice": false, "zero": false},
 "axis": {"values": [0,1,2,3,4,5,6,7,8,9,10,11,12,13,14,15,16,17,18,19,20,21,22,23,24,25,26,27,28,29,30,31,32,33,34,35,36,37,38,39,40,41,42,43,44,45], "labels": false, "title": null, "tickSize": 9, "grid": true, "gridDash": [11, 2000], "gridOpacity": {"condition": {"test": "datum.value % 5 === 0", "value": 1}, "value": 0}}}
},
"layer": [
{"data": {"name": "curves"}, "transform": [{"filter": "datum.p === 'c' && datum.k === 'pop'"}], "mark": {"type": "line", "color": "#111111", "strokeWidth": 2.5, "strokeDash": [2, 3.5], "interpolate": "monotone"}, "encoding": {"order": {"field": "d", "type": "quantitative"}}},
{"data": {"name": "curves"}, "transform": [{"filter": "datum.p === 'c' && datum.k === 'sub'"}], "mark": {"type": "line", "color": "#111111", "strokeWidth": 2, "interpolate": "monotone"}, "encoding": {"order": {"field": "d", "type": "quantitative"}}},
{"data": {"name": "pts"}, "transform": [{"filter": "datum.p === 'c'"}], "mark": {"type": "point", "shape": "diamond", "filled": true, "size": 290, "fill": "#c9c9c9", "stroke": "#111111", "strokeWidth": 2.5, "opacity": 1}},
{"data": {"name": "notes"}, "transform": [{"filter": "datum.p === 'c' && datum.k === 'tag'"}], "mark": {"type": "text", "font": "Lato", "fontSize": 28, "align": "left", "baseline": "alphabetic", "color": "black"}, "encoding": {"text": {"field": "t"}}},
{"data": {"name": "notes"}, "transform": [{"filter": "datum.p === 'c' && datum.k === 'sym'"}], "mark": {"type": "text", "font": "DejaVu Serif", "fontStyle": "italic", "fontSize": 28, "align": "left", "baseline": "alphabetic", "color": "black"}, "encoding": {"text": {"field": "t"}}},
{"data": {"name": "notes"}, "transform": [{"filter": "datum.p === 'c' && datum.k === 'sub'"}], "mark": {"type": "text", "font": "DejaVu Serif", "fontStyle": "italic", "fontSize": 21, "align": "left", "baseline": "alphabetic", "color": "black"}, "encoding": {"text": {"field": "t"}}},
{"data": {"name": "notes"}, "transform": [{"filter": "datum.p === 'c' && datum.k === 'nI'"}], "mark": {"type": "text", "font": "Liberation Serif", "fontStyle": "italic", "fontSize": 26, "align": "right", "baseline": "alphabetic", "color": "black"}, "encoding": {"text": {"field": "t"}}},
{"data": {"name": "notes"}, "transform": [{"filter": "datum.p === 'c' && datum.k === 'nV'"}], "mark": {"type": "text", "font": "Liberation Sans", "fontSize": 23, "align": "left", "baseline": "alphabetic", "color": "black"}, "encoding": {"text": {"field": "t"}}}
]
},
{
"width": 228, "height": 525,
"encoding": {
"x": {"field": "s", "type": "quantitative", "scale": {"domain": [0, 10], "nice": false, "zero": false},
 "axis": {"orient": "top", "values": [0,1,2,3,4,5,6,7,8,9,10], "labelExpr": "datum.value % 5 === 0 ? datum.label : ''", "title": null, "tickSize": 9, "labelPadding": 21, "labelFlush": false, "labelOverlap": false, "grid": true, "gridDash": [11, 2000], "gridOpacity": {"condition": {"test": "datum.value % 5 === 0", "value": 1}, "value": 0}}},
"y": {"field": "d", "type": "quantitative", "scale": {"domain": [0, 45], "reverse": true, "nice": false, "zero": false},
 "axis": {"values": [0,1,2,3,4,5,6,7,8,9,10,11,12,13,14,15,16,17,18,19,20,21,22,23,24,25,26,27,28,29,30,31,32,33,34,35,36,37,38,39,40,41,42,43,44,45], "labels": false, "title": null, "tickSize": 9, "grid": true, "gridDash": [11, 2000], "gridOpacity": {"condition": {"test": "datum.value % 5 === 0", "value": 1}, "value": 0}}}
},
"layer": [
{"data": {"name": "curves"}, "transform": [{"filter": "datum.p === 'd' && datum.k === 'pop'"}], "mark": {"type": "line", "color": "#111111", "strokeWidth": 2.5, "strokeDash": [2, 3.5], "interpolate": "monotone"}, "encoding": {"order": {"field": "d", "type": "quantitative"}}},
{"data": {"name": "curves"}, "transform": [{"filter": "datum.p === 'd' && datum.k === 'sub'"}], "mark": {"type": "line", "color": "#111111", "strokeWidth": 2, "interpolate": "monotone"}, "encoding": {"order": {"field": "d", "type": "quantitative"}}},
{"data": {"name": "pts"}, "transform": [{"filter": "datum.p === 'd'"}], "mark": {"type": "point", "shape": "diamond", "filled": true, "size": 290, "fill": "#c9c9c9", "stroke": "#111111", "strokeWidth": 2.5, "opacity": 1}},
{"data": {"name": "notes"}, "transform": [{"filter": "datum.p === 'd' && datum.k === 'tag'"}], "mark": {"type": "text", "font": "Lato", "fontSize": 28, "align": "left", "baseline": "alphabetic", "color": "black"}, "encoding": {"text": {"field": "t"}}},
{"data": {"name": "notes"}, "transform": [{"filter": "datum.p === 'd' && datum.k === 'sym'"}], "mark": {"type": "text", "font": "DejaVu Serif", "fontStyle": "italic", "fontSize": 28, "align": "left", "baseline": "alphabetic", "color": "black"}, "encoding": {"text": {"field": "t"}}},
{"data": {"name": "notes"}, "transform": [{"filter": "datum.p === 'd' && datum.k === 'sub'"}], "mark": {"type": "text", "font": "DejaVu Serif", "fontStyle": "italic", "fontSize": 21, "align": "left", "baseline": "alphabetic", "color": "black"}, "encoding": {"text": {"field": "t"}}},
{"data": {"name": "notes"}, "transform": [{"filter": "datum.p === 'd' && datum.k === 'nI'"}], "mark": {"type": "text", "font": "Liberation Serif", "fontStyle": "italic", "fontSize": 26, "align": "right", "baseline": "alphabetic", "color": "black"}, "encoding": {"text": {"field": "t"}}},
{"data": {"name": "notes"}, "transform": [{"filter": "datum.p === 'd' && datum.k === 'nV'"}], "mark": {"type": "text", "font": "Liberation Sans", "fontSize": 23, "align": "left", "baseline": "alphabetic", "color": "black"}, "encoding": {"text": {"field": "t"}}}
]
}
],
"config": {
"view": {"stroke": "black", "strokeWidth": 3},
"axis": {"domainColor": "black", "domainWidth": 3, "tickColor": "black", "tickWidth": 2.5, "labelFont": "Lato", "labelFontSize": 26, "labelColor": "black", "titleFont": "Lato", "titleFontSize": 29, "titleFontWeight": "normal", "titleColor": "black", "gridColor": "black", "gridWidth": 2.5}
}
}
